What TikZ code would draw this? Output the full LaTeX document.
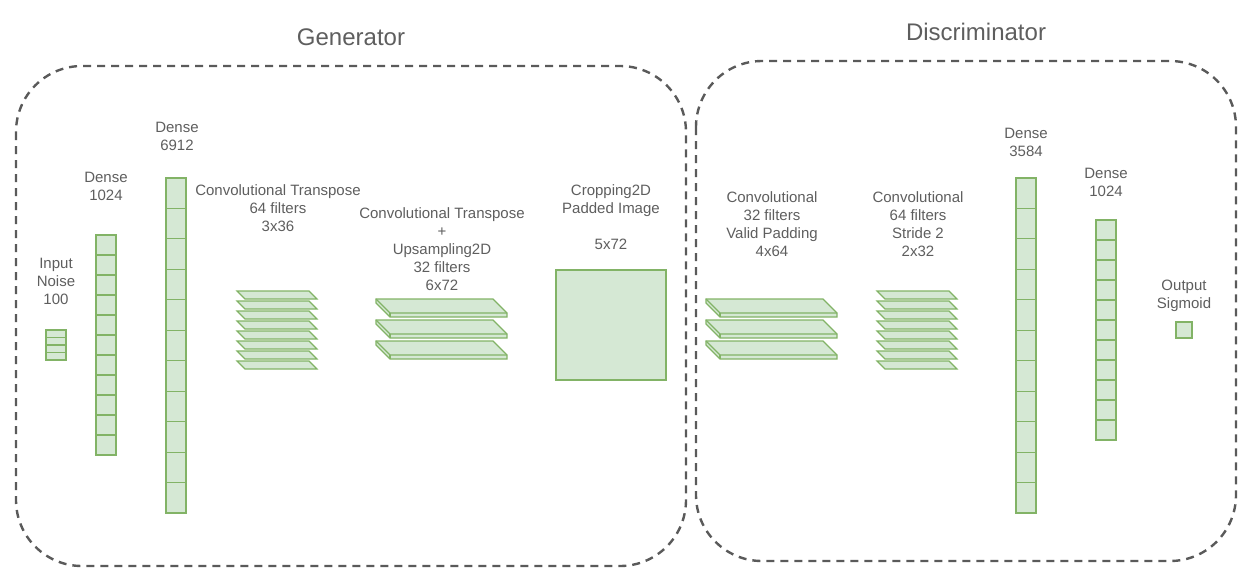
\documentclass[tikz,border=0pt]{standalone}
\usepackage{fontspec}
\setmainfont{Liberation Sans}
\definecolor{gfill}{HTML}{D5E8D4}
\definecolor{gline}{HTML}{82B366}
\definecolor{txt}{HTML}{5E5E5E}
\definecolor{frame}{HTML}{5A5A5A}
\begin{document}
\begin{tikzpicture}[x=1pt,y=-1pt,
  cell/.style={draw=gline,fill=gfill,line width=1.1pt},
  slab/.style={draw=gline,fill=gfill,line width=1.1pt,line join=miter},
  lbl/.style={text=txt,align=center,inner sep=0pt,font=\fontsize{15}{18}\selectfont},
  ttl/.style={text=txt,inner sep=0pt,font=\fontsize{24}{28}\selectfont},
  group/.style={draw=frame,line width=2.4pt,dash pattern=on 8pt off 6pt,rounded corners=66pt}]
\useasboundingbox (0,0) rectangle (1253,582);

% frames
\draw[group] (16,66) rectangle (686,566);
\draw[group] (696,61) rectangle (1236,561);
\node[ttl] (tgen) at (351,37) {Generator};
\node[ttl] (tdis) at (976,32) {Discriminator};

% input noise
\foreach \i in {0,...,3} \draw[cell] (46,330+7.5*\i) rectangle (66,337.5+7.5*\i);
\node[lbl] (lin) at (56,281) {Input\\Noise\\100};

% dense 1024
\foreach \i in {0,...,10} \draw[cell] (96,235+20*\i) rectangle (116,255+20*\i);
\node[lbl] (ld1) at (106,186) {Dense\\1024};

% dense 6912
\foreach \i in {0,...,10} \draw[cell] (166,178+30.45*\i) rectangle (186,208.45+30.45*\i);
\node[lbl] (ld2) at (177,136) {Dense\\6912};

% conv transpose 64 filters (thin layers)
\foreach \i in {7,6,...,0}
  \draw[slab] (237,291+10*\i) -- (309,291+10*\i) -- (317,299+10*\i) -- (245,299+10*\i) -- cycle;
\node[lbl] (lct1) at (278,208) {Convolutional Transpose\\64 filters\\3x36};

% conv transpose 32 filters (thick slabs)
\foreach \i in {2,1,0} {
  \draw[slab] (376,299+21*\i) -- (493,299+21*\i) -- (507,313+21*\i) -- (507,317+21*\i) -- (390,317+21*\i) -- (376,303+21*\i) -- cycle;
  \draw[draw=gline,line width=1.1pt] (376,299+21*\i) -- (390,313+21*\i) -- (507,313+21*\i);
  \draw[draw=gline,line width=1.1pt] (390,313+21*\i) -- (390,317+21*\i);
}
\node[lbl] (lct2) at (442,249) {Convolutional Transpose\\+\\Upsampling2D\\32 filters\\6x72};

% cropping
\draw[cell] (556,270) rectangle (666,380);
\node[lbl] (lcr) at (611,217) {Cropping2D\\Padded Image\\[18pt]5x72};

% discriminator conv 32 (thick)
\foreach \i in {2,1,0} {
  \draw[slab] (706,299+21*\i) -- (823,299+21*\i) -- (837,313+21*\i) -- (837,317+21*\i) -- (720,317+21*\i) -- (706,303+21*\i) -- cycle;
  \draw[draw=gline,line width=1.1pt] (706,299+21*\i) -- (720,313+21*\i) -- (837,313+21*\i);
  \draw[draw=gline,line width=1.1pt] (720,313+21*\i) -- (720,317+21*\i);
}
\node[lbl] (lc1) at (772,224) {Convolutional\\32 filters\\Valid Padding\\4x64};

% discriminator conv 64 (thin)
\foreach \i in {7,6,...,0}
  \draw[slab] (877,291+10*\i) -- (949,291+10*\i) -- (957,299+10*\i) -- (885,299+10*\i) -- cycle;
\node[lbl] (lc2) at (918,224) {Convolutional\\64 filters\\Stride 2\\2x32};

% dense 3584
\foreach \i in {0,...,10} \draw[cell] (1016,178+30.45*\i) rectangle (1036,208.45+30.45*\i);
\node[lbl] (ld3) at (1026,142) {Dense\\3584};

% dense 1024
\foreach \i in {0,...,10} \draw[cell] (1096,220+20*\i) rectangle (1116,240+20*\i);
\node[lbl] (ld4) at (1106,182) {Dense\\1024};

% output
\draw[cell] (1176,322) rectangle (1192,338);
\node[lbl] (lout) at (1184,296) {Output\\Sigmoid};
\end{tikzpicture}
\end{document}
